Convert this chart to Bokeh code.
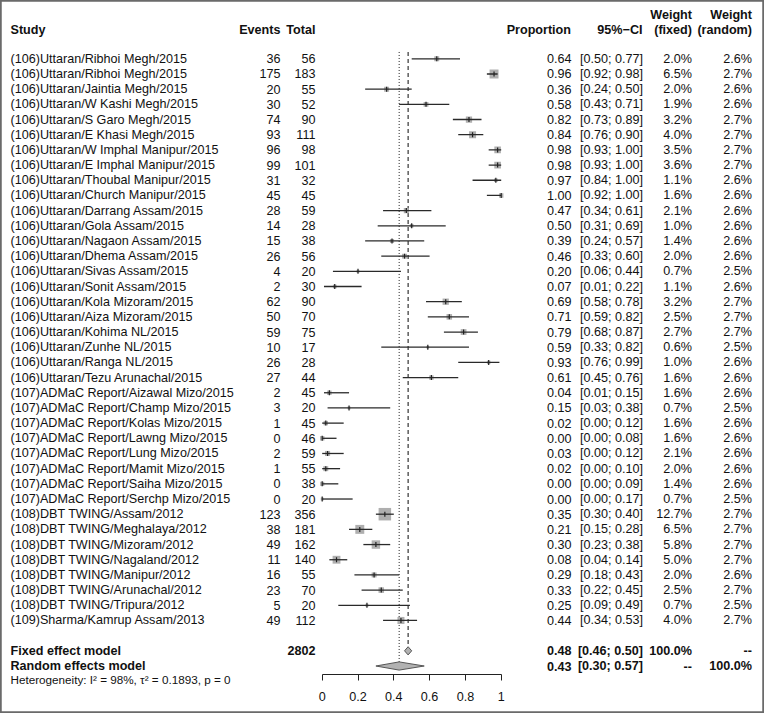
import numpy as np
from bokeh.plotting import figure
from bokeh.models import Range1d, LinearAxis, FixedTicker
from bokeh.embed import file_html
from bokeh.resources import INLINE
from bokeh.core.properties import value

# ---------------- data ----------------
studies = [
    "(106)Uttaran/Ribhoi Megh/2015", "(106)Uttaran/Ribhoi Megh/2015",
    "(106)Uttaran/Jaintia Megh/2015", "(106)Uttaran/W Kashi Megh/2015",
    "(106)Uttaran/S Garo Megh/2015", "(106)Uttaran/E Khasi Megh/2015",
    "(106)Uttaran/W Imphal Manipur/2015", "(106)Uttaran/E Imphal Manipur/2015",
    "(106)Uttaran/Thoubal Manipur/2015", "(106)Uttaran/Church Manipur/2015",
    "(106)Uttaran/Darrang Assam/2015", "(106)Uttaran/Gola Assam/2015",
    "(106)Uttaran/Nagaon Assam/2015", "(106)Uttaran/Dhema Assam/2015",
    "(106)Uttaran/Sivas Assam/2015", "(106)Uttaran/Sonit Assam/2015",
    "(106)Uttaran/Kola Mizoram/2015", "(106)Uttaran/Aiza Mizoram/2015",
    "(106)Uttaran/Kohima NL/2015", "(106)Uttaran/Zunhe NL/2015",
    "(106)Uttaran/Ranga NL/2015", "(106)Uttaran/Tezu Arunachal/2015",
    "(107)ADMaC Report/Aizawal Mizo/2015", "(107)ADMaC Report/Champ Mizo/2015",
    "(107)ADMaC Report/Kolas Mizo/2015", "(107)ADMaC Report/Lawng Mizo/2015",
    "(107)ADMaC Report/Lung Mizo/2015", "(107)ADMaC Report/Mamit Mizo/2015",
    "(107)ADMaC Report/Saiha Mizo/2015", "(107)ADMaC Report/Serchp Mizo/2015",
    "(108)DBT TWING/Assam/2012", "(108)DBT TWING/Meghalaya/2012",
    "(108)DBT TWING/Mizoram/2012", "(108)DBT TWING/Nagaland/2012",
    "(108)DBT TWING/Manipur/2012", "(108)DBT TWING/Arunachal/2012",
    "(108)DBT TWING/Tripura/2012", "(109)Sharma/Kamrup Assam/2013",
]
events = [36, 175, 20, 30, 74, 93, 96, 99, 31, 45, 28, 14, 15, 26, 4, 2, 62, 50, 59, 10,
          26, 27, 2, 3, 1, 0, 2, 1, 0, 0, 123, 38, 49, 11, 16, 23, 5, 49]
totals = [56, 183, 55, 52, 90, 111, 98, 101, 32, 45, 59, 28, 38, 56, 20, 30, 90, 70, 75, 17,
          28, 44, 45, 20, 45, 46, 59, 55, 38, 20, 356, 181, 162, 140, 55, 70, 20, 112]
proportion = [0.64, 0.96, 0.36, 0.58, 0.82, 0.84, 0.98, 0.98, 0.97, 1.00, 0.47, 0.50, 0.39,
              0.46, 0.20, 0.07, 0.69, 0.71, 0.79, 0.59, 0.93, 0.61, 0.04, 0.15, 0.02, 0.00,
              0.03, 0.02, 0.00, 0.00, 0.35, 0.21, 0.30, 0.08, 0.29, 0.33, 0.25, 0.44]
ci_lower = [0.50, 0.92, 0.24, 0.43, 0.73, 0.76, 0.93, 0.93, 0.84, 0.92, 0.34, 0.31, 0.24,
            0.33, 0.06, 0.01, 0.58, 0.59, 0.68, 0.33, 0.76, 0.45, 0.01, 0.03, 0.00, 0.00,
            0.00, 0.00, 0.00, 0.00, 0.30, 0.15, 0.23, 0.04, 0.18, 0.22, 0.09, 0.34]
ci_upper = [0.77, 0.98, 0.50, 0.71, 0.89, 0.90, 1.00, 1.00, 1.00, 1.00, 0.61, 0.69, 0.57,
            0.60, 0.44, 0.22, 0.78, 0.82, 0.87, 0.82, 0.99, 0.76, 0.15, 0.38, 0.12, 0.08,
            0.12, 0.10, 0.09, 0.17, 0.40, 0.28, 0.38, 0.14, 0.43, 0.45, 0.49, 0.53]
weight_fixed = [2.0, 6.5, 2.0, 1.9, 3.2, 4.0, 3.5, 3.6, 1.1, 1.6, 2.1, 1.0, 1.4, 2.0, 0.7, 1.1,
                3.2, 2.5, 2.7, 0.6, 1.0, 1.6, 1.6, 0.7, 1.6, 1.6, 2.1, 2.0, 1.4, 0.7, 12.7, 6.5,
                5.8, 5.0, 2.0, 2.5, 0.7, 4.0]
weight_random = [2.6, 2.7, 2.6, 2.6, 2.7, 2.7, 2.7, 2.7, 2.6, 2.6, 2.6, 2.6, 2.6, 2.6, 2.5, 2.6,
                 2.7, 2.7, 2.7, 2.5, 2.6, 2.6, 2.6, 2.5, 2.6, 2.6, 2.6, 2.6, 2.6, 2.5, 2.7, 2.7,
                 2.7, 2.7, 2.6, 2.7, 2.5, 2.7]

model_labels = ["Fixed effect model", "Random effects model"]
model_total = ["2802", ""]
model_est = [0.48, 0.43]
model_lower = [0.46, 0.30]
model_upper = [0.50, 0.57]
model_w_fixed = ["100.0%", "--"]
model_w_random = ["--", "100.0%"]
heterogeneity = "Heterogeneity: I² = 98%, τ² = 0.1893, p = 0"

tick_values = [0, 0.2, 0.4, 0.6, 0.8, 1]
tick_labels = ["0", "0.2", "0.4", "0.6", "0.8", "1"]

# ---------------- layout helpers ----------------
W, H = 764, 713
OFF = 0
PX0, PXU = 321.7, 179.0        # page x of proportion 0, pixels per unit
ROW1_Y, ROW_H = 58.3, 15.18    # page y of first study row, row height


def xd(px):
    return (px - PX0) / PXU


def yd(py):
    return 1 + (py - ROW1_Y) / ROW_H


n = len(studies)
rows = list(range(1, n + 1))
model_rows = [n + 2, n + 3]

FONT = "Liberation Sans"
FS = "12.6px"
TXT = "#111111"

p = figure(width=W, height=H, output_backend="svg", toolbar_location=None,
           x_range=Range1d(xd(OFF), xd(OFF + W)), y_range=Range1d(yd(OFF + H), yd(OFF)),
           x_axis_type=None, y_axis_type=None, min_border=0)
p.background_fill_color = "white"
p.border_fill_color = "white"
p.outline_line_color = "#6a6a6a"
p.outline_line_width = 2.5
p.xgrid.visible = False
p.ygrid.visible = False


def col_text(px, ys, texts, align="right", bold=False, size=FS):
    p.text(x=[xd(px)] * len(ys), y=ys, text=texts, text_align=align,
           text_baseline="middle", text_font=value(FONT), text_font_size=size,
           text_font_style="bold" if bold else "normal", text_color=TXT)


# headers
hdr1 = yd(29)
hdr0 = yd(14)
col_text(10, [hdr1], ["Study"], align="left", bold=True)
col_text(280, [hdr1], ["Events"], bold=True)
col_text(315, [hdr1], ["Total"], bold=True)
col_text(570.5, [hdr1], ["Proportion"], bold=True)
col_text(642, [hdr1], ["95%\u2212CI"], bold=True)
col_text(691.5, [hdr0, hdr1], ["Weight", "(fixed)"], bold=True)
col_text(751.5, [hdr0, hdr1], ["Weight", "(random)"], bold=True)

# study rows
col_text(10, rows, studies, align="left")
col_text(280, rows, [str(e) for e in events])
col_text(315, rows, [str(t) for t in totals])
col_text(571, rows, [f"{v:.2f}" for v in proportion])
col_text(642.5, rows, [f"[{l:.2f}; {u:.2f}]" for l, u in zip(ci_lower, ci_upper)])
col_text(691.5, rows, [f"{w:.1f}%" for w in weight_fixed])
col_text(751.5, rows, [f"{w:.1f}%" for w in weight_random])

# model rows
col_text(10, model_rows, model_labels, align="left", bold=True)
col_text(315, model_rows, model_total, bold=True)
col_text(571, model_rows, [f"{v:.2f}" for v in model_est], bold=True)
col_text(642.5, model_rows, [f"[{l:.2f}; {u:.2f}]" for l, u in zip(model_lower, model_upper)], bold=True)
col_text(691.5, model_rows, model_w_fixed, bold=True)
col_text(751.5, model_rows, model_w_random, bold=True)
col_text(10, [yd(679)], [heterogeneity], align="left", size="11.7px")

# reference lines
DH = 0.27
top = 0.55
p.segment(x0=[model_est[0]], y0=[top], x1=[model_est[0]], y1=[model_rows[0] - DH],
          line_color="#222222", line_width=1.1, line_dash="4 3")
p.segment(x0=[model_est[1]], y0=[top], x1=[model_est[1]], y1=[model_rows[1] - DH],
          line_color="#222222", line_width=1, line_dash="1 2")

# squares, CI lines, ticks
wmax = max(weight_fixed)
sizes = list(12.5 * np.sqrt(np.array(weight_fixed) / wmax))
p.scatter(x=proportion, y=rows, marker="square", size=sizes, fill_color="#AFAFAF",
          line_color=None)
p.segment(x0=ci_lower, y0=rows, x1=ci_upper, y1=rows, line_color="#2a2a2a", line_width=1.3)
p.scatter(x=proportion, y=rows, marker="dash", angle=np.pi / 2, size=5,
          line_color="#222222", line_width=1.2)

# diamonds
xs = [[l, e, u, e] for l, e, u in zip(model_lower, model_est, model_upper)]
ys = [[r, r - DH, r, r + DH] for r in model_rows]
p.patches(xs, ys, fill_color="#B2B2B2", line_color="#555555", line_width=1)

# axis
ax = LinearAxis(fixed_location=yd(674.3), bounds=(0, 1),
                ticker=FixedTicker(ticks=tick_values, minor_ticks=[]),
                major_label_overrides=dict(zip(tick_values, tick_labels)))
ax.major_tick_in = 0
ax.major_tick_out = 6
ax.minor_tick_in = 0
ax.minor_tick_out = 0
ax.major_label_standoff = 11
ax.axis_line_color = "#222222"
ax.major_tick_line_color = "#222222"
ax.major_label_text_font = FONT
ax.major_label_text_font_size = FS
ax.major_label_text_color = TXT
p.add_layout(ax, "below")

open("out.html", "w").write(file_html(p, INLINE))
